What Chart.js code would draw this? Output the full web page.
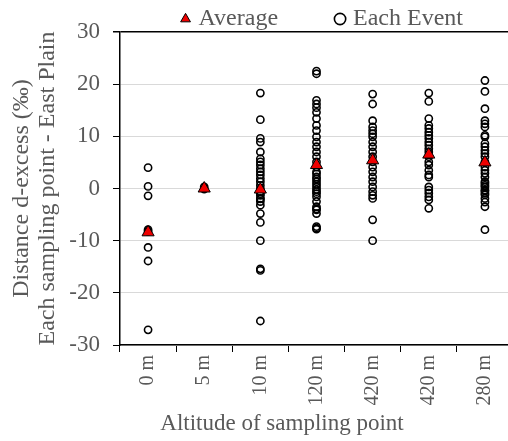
<!DOCTYPE html>
<html>
<head>
<meta charset="utf-8">
<script src="https://cdn.jsdelivr.net/npm/chart.js@4/dist/chart.umd.min.js"></script>
<style>
    html, body { margin: 0; padding: 0; background: #fff; overflow: hidden; }
</style>
</head>
<body>
<canvas id="dexChart" width="524" height="441"></canvas>
<script>
const categories = ['0 m', '5 m', '10 m', '120 m', '420 m', '420 m', '280 m'];

const averages = [-8.4, 0.0, -0.2, 4.5, 5.4, 6.5, 5.0];

const events0m = [4.0, 0.4, -1.4, -7.9, -8.2, -11.3, -13.9, -27.1];
const events5m = [0.3, -0.1];
const events10m = [18.3, 13.2, 9.6, 8.9, 7.0, 5.7, 5.1, 4.5, 3.8, 3.2, 2.6, 1.9, 1.3, 0.6, 0.0, -0.6, -1.0, -1.3,
    -1.9, -2.0, -2.5, -3.2, -4.8, -6.5, -10.0, -15.4, -15.7, -25.4];
const events120m = [22.5, 22.0, 16.9, 16.2, 15.5, 14.6, 13.4, 12.1, 11.1, 9.9, 8.9, 8.0, 7.0, 6.1, 5.1, 4.1, 3.2,
    2.8, 2.2, 1.8, 1.3, 0.8, 0.3, -0.2, -0.6, -1.0, -1.6, -2.5, -3.5, -3.9, -4.1, -4.8, -7.3, -7.6, -7.8];
const events420mA = [18.1, 16.2, 13.0, 11.8, 11.1, 10.5, 9.9, 8.9, 8.0, 7.0, 6.1, 5.1, 4.1, 3.2, 2.2, 1.3, 0.3,
    -0.6, -1.3, -1.9, -6.0, -10.0];
const events420mB = [18.3, 16.7, 13.4, 12.1, 11.5, 10.8, 10.2, 9.6, 8.9, 8.3, 7.6, 7.0, 6.1, 5.1, 4.5, 3.5, 2.6,
    2.2, 0.3, -0.3, -0.9, -1.6, -2.2, -3.8];
const events280m = [20.7, 18.6, 15.3, 13.0, 12.4, 11.8, 10.2, 9.9, 8.6, 8.0, 7.3, 6.7, 6.1, 5.1, 4.1, 3.5, 2.9,
    2.2, 1.3, 1.0, 0.6, 0.3, -0.3, -0.5, -0.9, -1.2, -1.9, -2.6, -3.5, -7.9];

const allEvents = [events0m, events5m, events10m, events120m, events420mA, events420mB, events280m];

const yTicks = [-30, -20, -10, 0, 10, 20, 30];

const serif = '"Liberation Serif", "Times New Roman", serif';
const grey = '#595959';

const avgPoints = averages.map((v, i) => ({ x: i, y: v }));
const eventPoints = allEvents.flatMap((vals, i) => vals.map(v => ({ x: i, y: v })));

// excel centred the axis title left of the plot middle, pad it to match
const xTitle = 'Altitude of sampling point' + '\u00a0'.repeat(12);

const ctx = document.getElementById('dexChart').getContext('2d');
new Chart(ctx, {
    type: 'scatter',
    data: {
        labels: categories,
        datasets: [
            {
                label: 'Average',
                data: avgPoints,
                xAxisID: 'xData',
                pointStyle: 'triangle',
                pointRadius: 7,
                pointHoverRadius: 7,
                backgroundColor: '#ee0000',
                borderColor: '#000',
                borderWidth: 1
            },
            {
                label: 'Each Event',
                data: eventPoints,
                xAxisID: 'xData',
                pointStyle: 'circle',
                pointRadius: 3.6,
                pointHoverRadius: 3.6,
                backgroundColor: 'rgba(0,0,0,0)',
                borderColor: '#000',
                borderWidth: 1.6
            }
        ]
    },
    options: {
        responsive: false,
        animation: false,
        layout: {
            padding: { top: -54, left: 0, right: 0, bottom: 0 }
        },
        plugins: {
            tooltip: { enabled: false },
            legend: {
                position: 'top',
                align: 'end',
                maxHeight: 86,
                labels: {
                    usePointStyle: true,
                    boxWidth: 2,
                    boxHeight: 8,
                    padding: 61,
                    color: grey,
                    font: { family: serif, size: 24 }
                }
            }
        },
        scales: {
            x: {
                type: 'category',
                position: 'bottom',
                offset: true,
                afterFit: scale => {
                    scale.height = 96;
                    scale.paddingLeft = 0;
                    scale.paddingRight = 11;
                },
                grid: {
                    offset: true,
                    drawOnChartArea: false,
                    color: '#000',
                    tickColor: '#000',
                    tickLength: 7
                },
                border: { color: '#000', width: 1.5 },
                ticks: {
                    minRotation: 90,
                    maxRotation: 90,
                    padding: 3,
                    color: grey,
                    font: { family: serif, size: 20 }
                },
                title: {
                    display: true,
                    text: xTitle,
                    color: grey,
                    font: { family: serif, size: 23 },
                    padding: { top: 0, bottom: 3 }
                }
            },
            xData: {
                type: 'linear',
                display: false,
                min: -0.5,
                max: categories.length - 0.5
            },
            y: {
                type: 'linear',
                min: -30,
                max: 30,
                afterFit: scale => {
                    scale.width = 120;
                    scale.paddingTop = 0;
                    scale.paddingBottom = 0;
                },
                afterBuildTicks: scale => { scale.ticks = yTicks.map(v => ({ value: v })); },
                grid: {
                    color: c => (c.tick && c.tick.value === 30 ? '#000' : '#d9d9d9'),
                    lineWidth: c => (c.tick && c.tick.value === 30 ? 1.5 : 1),
                    tickColor: '#000',
                    tickLength: 7
                },
                border: { color: '#000', width: 1.5 },
                ticks: {
                    padding: 13,
                    color: grey,
                    font: { family: serif, size: 23 }
                },
                title: {
                    display: true,
                    text: ['Distance d-excess (‰)', 'Each sampling point - East Plain'],
                    color: grey,
                    font: { family: serif, size: 24, lineHeight: '26px' },
                    padding: { top: 9, bottom: 0 }
                }
            }
        }
    }
});
</script>
</body>
</html>
